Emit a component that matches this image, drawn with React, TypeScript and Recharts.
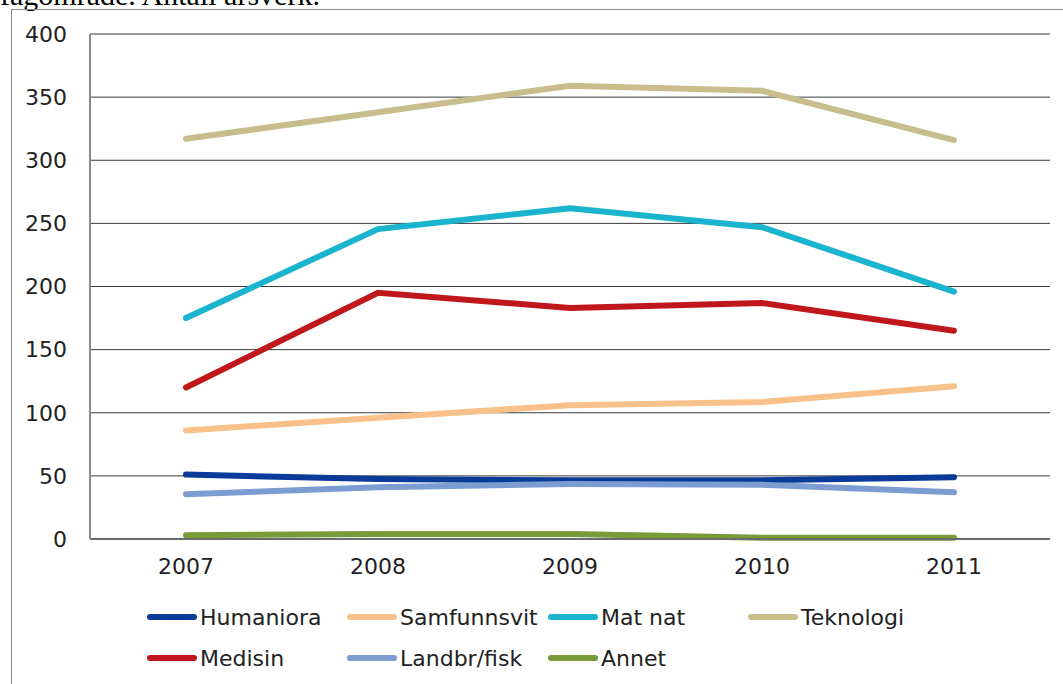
import { CartesianGrid, Legend, Line, LineChart, XAxis, YAxis } from 'recharts';

const years = ['2007', '2008', '2009', '2010', '2011'];
const humaniora = [51, 47.5, 46.5, 46.5, 49];
const samfunnsvit = [86, 96, 106, 108.5, 121];
const matNat = [175, 245.5, 262, 247, 196];
const teknologi = [317, 338, 359, 355, 316];
const medisin = [120, 195, 183, 187, 165];
const landbrFisk = [35.5, 41, 43.5, 43, 37];
const annet = [3, 4, 4, 1, 1];
const yTicks = [0, 50, 100, 150, 200, 250, 300, 350, 400];

const series = [
  { key: 'hum', name: 'Humaniora', values: humaniora, color: '#0b3a98' },
  { key: 'sam', name: 'Samfunnsvit', values: samfunnsvit, color: '#f9c18a' },
  { key: 'mat', name: 'Mat nat', values: matNat, color: '#1ab4cf' },
  { key: 'tek', name: 'Teknologi', values: teknologi, color: '#c8bd8c' },
  { key: 'med', name: 'Medisin', values: medisin, color: '#c0171c' },
  { key: 'lan', name: 'Landbr/fisk', values: landbrFisk, color: '#7b9dd2' },
  { key: 'ann', name: 'Annet', values: annet, color: '#7a9a38' },
];

const data = years.map((year, i) => {
  const row: Record<string, string | number> = { year };
  series.forEach((s) => (row[s.key] = s.values[i]));
  return row;
});

const font = '"DejaVu Sans", Verdana, sans-serif';
const legendCols = [147, 347, 548, 748];

// legend is laid out by hand (Excel-style grid); zero height so it doesn't shrink the plot
function ChartLegend() {
  return (
    <div style={{ position: 'relative', width: 1063, height: 0, fontFamily: font, fontSize: 22, color: '#222' }}>
      {series.map((s, i) => {
        const row = i < 4 ? 0 : 1;
        const col = i < 4 ? i : i - 4;
        return (
          <div
            key={s.key}
            style={{
              position: 'absolute',
              left: legendCols[col],
              top: row * 41,
              display: 'flex',
              alignItems: 'center',
              height: 30,
              whiteSpace: 'nowrap',
            }}
          >
            <span
              style={{ display: 'inline-block', width: 50, height: 6, borderRadius: 3, background: s.color, marginRight: 3 }}
            />
            <span>{s.name}</span>
          </div>
        );
      })}
    </div>
  );
}

export default function App() {
  return (
    <div style={{ position: 'absolute', left: 0, top: 0, width: 1063, height: 684, overflow: 'hidden', background: '#fff' }}>
      <div
        style={{
          position: 'absolute',
          left: 0,
          top: -20,
          fontFamily: '"Liberation Serif", "Times New Roman", serif',
          fontSize: 30,
          lineHeight: '30px',
          whiteSpace: 'nowrap',
        }}
      >
        fagområde. Antall årsverk.
      </div>
      <div
        style={{
          position: 'absolute',
          left: 11,
          top: 9,
          width: 1100,
          height: 700,
          border: '1px solid #8a8a8a',
        }}
      />
      <div style={{ position: 'absolute', left: 0, top: 0 }}>
        <LineChart width={1063} height={684} data={data} margin={{ top: 34, right: 13, bottom: 105, left: 0 }}>
          <CartesianGrid vertical={false} stroke="#3a3a3a" strokeWidth={1} />
          <XAxis
            dataKey="year"
            scale="band"
            tickSize={0}
            tickMargin={19}
            axisLine={{ stroke: '#6a6a6a', strokeWidth: 2 }}
            tick={{ fill: '#222', fontSize: 22, fontFamily: font }}
            height={40}
          />
          <YAxis
            domain={[0, 400]}
            ticks={yTicks}
            width={90}
            tickSize={0}
            tickMargin={23}
            axisLine={{ stroke: '#8a8a8a', strokeWidth: 2 }}
            tick={{ fill: '#222', fontSize: 22, fontFamily: font }}
          />
          <YAxis
            yAxisId="frame"
            orientation="right"
            width={0}
            tick={false}
            tickLine={false}
            axisLine={{ stroke: '#8a8a8a', strokeWidth: 2 }}
          />
          {series.map((s) => (
            <Line
              key={s.key}
              dataKey={s.key}
              name={s.name}
              stroke={s.color}
              strokeWidth={6}
              strokeLinecap="round"
              dot={false}
              activeDot={false}
              isAnimationActive={false}
            />
          ))}
          <Legend content={() => <ChartLegend />} wrapperStyle={{ left: 0, top: 602, width: 1063, height: 0 }} />
        </LineChart>
      </div>
    </div>
  );
}
